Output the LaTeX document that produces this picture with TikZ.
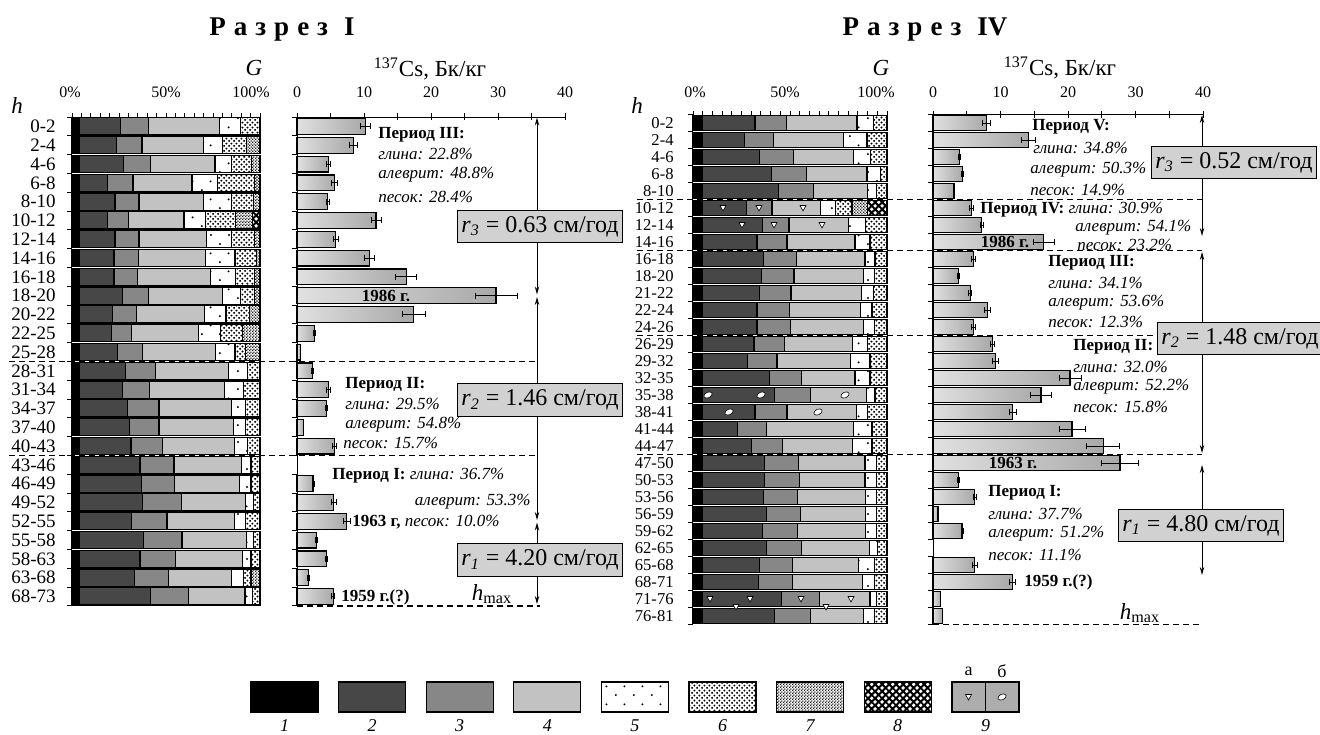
\documentclass[tikz,border=0pt]{standalone}
\usepackage{fontspec}
\setmainfont{Liberation Serif}
\usetikzlibrary{arrows.meta, patterns}

% textures of the grain size classes
\pgfdeclarepatternformonly{sparse dots}{\pgfqpoint{0pt}{0pt}}{\pgfqpoint{9pt}{9pt}}{\pgfqpoint{9pt}{9pt}}{%
	\pgfpathcircle{\pgfqpoint{2pt}{2pt}}{0.55pt}%
	\pgfpathcircle{\pgfqpoint{6.5pt}{6.5pt}}{0.55pt}%
	\pgfusepath{fill}%
}
\pgfdeclarepatternformonly{medium dots}{\pgfqpoint{0pt}{0pt}}{\pgfqpoint{2.6pt}{2.6pt}}{\pgfqpoint{2.6pt}{2.6pt}}{%
	\pgfpathcircle{\pgfqpoint{0.65pt}{0.65pt}}{0.62pt}%
	\pgfpathcircle{\pgfqpoint{1.95pt}{1.95pt}}{0.62pt}%
	\pgfusepath{fill}%
}
\pgfdeclarepatternformonly{fine dots}{\pgfqpoint{0pt}{0pt}}{\pgfqpoint{1.6pt}{1.6pt}}{\pgfqpoint{1.6pt}{1.6pt}}{%
	\pgfpathcircle{\pgfqpoint{0.4pt}{0.4pt}}{0.46pt}%
	\pgfpathcircle{\pgfqpoint{1.2pt}{1.2pt}}{0.46pt}%
	\pgfusepath{fill}%
}
\pgfdeclarepatternformonly{blobs}{\pgfqpoint{0pt}{0pt}}{\pgfqpoint{3.4pt}{3.4pt}}{\pgfqpoint{3.4pt}{3.4pt}}{%
	\pgfpathcircle{\pgfqpoint{0.85pt}{0.85pt}}{0.95pt}%
	\pgfpathcircle{\pgfqpoint{2.55pt}{2.55pt}}{0.95pt}%
	\pgfusepath{fill}%
}

\newcommand{\lsp}{\hspace{4pt}}
% one stacked bar: top, bottom, then the class limits in percent
\newcommand{\grainrow}[9]{%
	\path[sed-1] (0, #1) rectangle (#3, #2);
	\path[sed-2] (#3, #1) rectangle (#4, #2);
	\path[sed-3] (#4, #1) rectangle (#5, #2);
	\path[sed-4] (#5, #1) rectangle (#6, #2);
	\path[sed-5] (#6, #1) rectangle (#7, #2);
	\path[sed-6] (#7, #1) rectangle (#8, #2);
	\path[sed-7] (#8, #1) rectangle (#9, #2);
	\path[sed-8] (#9, #1) rectangle (100, #2);
	\draw[bar-edge] (0, #1) rectangle (100, #2)
		(#4, #1) -- (#4, #2) (#5, #1) -- (#5, #2) (#6, #1) -- (#6, #2)
		(#7, #1) -- (#7, #2) (#8, #1) -- (#8, #2) (#9, #1) -- (#9, #2);
}

\begin{document}
\begin{tikzpicture} [
		x = 0.5pt,
		y = -0.5pt,
		sed-1/.style = {fill = black},
		sed-2/.style = {fill = black!72},
		sed-3/.style = {fill = black!47},
		sed-4/.style = {fill = black!24},
		sed-5/.style = {pattern = sparse dots},
		sed-6/.style = {pattern = medium dots},
		sed-7/.style = {pattern = fine dots},
		sed-8/.style = {
			fill = black,
			postaction = {pattern = blobs, pattern color = white},
		},
		bar-edge/.style = {
			draw,
			line width = 0.6pt,
		},
		cs-bar/.style = {
			draw,
			line width = 0.6pt,
			left color = black!12,
			right color = black!34,
		},
		err-bar/.style = {
			arrows = {Bar[width = 3pt]-Bar[width = 3pt]},
			line width = 0.4pt,
		},
		axis/.style = {
			line width = 0.5pt,
		},
		period-line/.style = {
			dashed,
			dash pattern = on 3pt off 2pt,
			line width = 0.75pt,
		},
		rate-arrow/.style = {
			arrows = {Stealth[length = 4pt, width = 2.2pt]-Stealth[length = 4pt, width = 2.2pt]},
			line width = 0.5pt,
		},
		rate-box/.style = {
			draw,
			line width = 0.6pt,
			fill = black!18,
			inner xsep = 2pt,
			inner ysep = 3pt,
			font = \fontsize{12}{13}\selectfont,
		},
		section-title/.style = {
			font = \fontsize{13.5}{15}\selectfont\bfseries,
		},
		axis-title/.style = {
			font = \fontsize{11.5}{13}\selectfont,
		},
		axis-label/.style = {
			inner sep = 0pt,
			font = \fontsize{8}{9}\selectfont,
		},
		row-label-a/.style = {
			anchor = east,
			inner sep = 0pt,
			font = \fontsize{9.5}{10}\selectfont,
		},
		row-label-b/.style = {
			anchor = east,
			inner sep = 0pt,
			font = \fontsize{8.3}{9}\selectfont,
		},
		period-head/.style = {
			anchor = west,
			inner sep = 0pt,
			font = \fontsize{8.5}{9}\selectfont\bfseries,
		},
		period-text/.style = {
			anchor = west,
			inner sep = 0pt,
			font = \fontsize{8.5}{9}\selectfont\itshape,
		},
		year-label/.style = {
			inner sep = 0pt,
			font = \fontsize{8.5}{9}\selectfont\bfseries,
		},
		legend-num/.style = {
			font = \fontsize{9}{10}\selectfont\itshape,
		},
		legend-sub/.style = {
			font = \fontsize{9}{10}\selectfont,
		},
		inc-a/.pic = {
			\filldraw[fill = white, line width = 0.3pt] (-3, -2.5) -- (3, -2.5) -- (0, 3) -- cycle;
		},
		inc-b/.pic = {
			\filldraw[fill = white, line width = 0.3pt, rotate = 25] (0, 0) ellipse [x radius = 2.2pt, y radius = 1.4pt];
		}
	]

	\fill[white] (0, 0) rectangle (1320, 734);
	\useasboundingbox (0, 0) rectangle (1320, 734);

	% section I
	\node[section-title] (title-a) at (282, 30) {Р\lsp а\lsp з\lsp р\lsp е\lsp з\lsp\lsp I};
	\node[axis-title] (g-a) at (254, 68) {\itshape G};
	\node[axis-title] (cs-a) at (430, 69) {\textsuperscript{137}Cs, Бк/кг};
	\node[axis-title] (h-a) at (17, 106) {\itshape h};
	\node[axis-label] (g0-a) at (70, 92) {0\%};
	\node[axis-label] (g50-a) at (166, 92) {50\%};
	\node[axis-label] (g100-a) at (251, 92) {100\%};
	\foreach \t in {0, 10, 20, 30, 40}
		\node[axis-label] (cs\t-a) at ({297 + 6.7 * \t}, 92) {\t};
	\foreach \t in {0, 5, ..., 100}
		\draw[axis] ({72 + 1.88 * \t}, 117) -- ({72 + 1.88 * \t}, 113);
	\foreach \t in {0, 5, ..., 40}
		\draw[axis] ({297 + 6.7 * \t}, 113) -- ({297 + 6.7 * \t}, 120);
	\draw[axis] (67, 117) -- (72, 117) (292, 117) -- (297, 117);

	\foreach \i/\lab/\pa/\pb/\pc/\pd/\pe/\pf/\cv/\ev [evaluate = \i as \ya using 117 + (\i - 1) * 18.8, evaluate = \i as \ym using 117 + (\i - 0.5) * 18.8, evaluate = \i as \yb using 117 + \i * 18.8] in {
		1/0-2/25.7/40.7/78.4/89.7/100/100/10.2/0.8,
		2/2-4/23.5/37.2/69.9/80.2/92.9/100/8.4/0.6,
		3/4-6/27.4/41.6/76.1/85/95.6/100/4.7/0.3,
		4/6-8/19/32.4/63.8/77.5/97/100/5.6/0.5,
		5/8-10/22.9/35.6/69.9/84.8/96.6/100/4.6/0.3,
		6/10-12/19/29.9/59.6/71/87/95.8/11.8/0.8,
		7/12-14/22.9/35.6/71.4/84.8/97/100/5.8/0.4,
		8/14-16/22.3/35.2/71/86.7/98/100/10.8/0.8,
		9/16-18/22.3/34.9/73.7/87/97.1/100/16.3/1.6,
		10/18-20/26.7/40.6/80/89.5/97.1/100/29.7/3.2,
		11/20-22/21.5/34.3/70.5/81.9/94.3/100/17.4/1.8,
		12/22-25/21/31.8/67.2/79/90.5/100/2.6/0.2,
		13/25-28/24.2/37.5/76.2/86.7/92.4/100/0.5/0,
		14/28-31/28.6/44.4/83.2/93.3/100/100/2.3/0.2,
		15/31-34/26.7/41.3/81/91.4/100/100/4.7/0.4,
		16/34-37/29.5/46.3/84.8/92.4/100/100/4.4/0.2,
		17/37-40/30.5/46.3/85.7/92.4/100/100/1.0/0,
		18/40-43/31.4/48.2/86.3/93.3/100/100/5.6/0.4,
		19/43-46/36.2/54.3/90.1/95.2/100/100/0/0,
		20/46-49/36.8/54.7/88.9/95.2/100/100/2.4/0.2,
		21/49-52/37.5/58.1/92.4/96.6/100/100/5.5/0.4,
		22/52-55/31.8/50.5/86.3/92.4/100/100/7.4/0.6,
		23/55-58/38.1/58.5/92.8/96.6/100/100/2.9/0.2,
		24/58-63/36.2/55.2/90.5/95.2/100/100/4.4/0.2,
		25/63-68/33.3/51.4/84.8/91.4/95.2/100/1.7/0.2,
		26/68-73/41.9/61.9/92/96.2/100/100/5.4/0.3
	} {
		\node[row-label-a] (row-a\i) at (56, \ym) {\lab};
		\draw[axis] (67, \yb) -- (72, \yb) (292, \yb) -- (297, \yb);
		\begin{scope}[shift = {(72, 0)}, x = 0.94pt]
			\grainrow{\ya + 0.8}{\yb - 0.8}{4}{\pa}{\pb}{\pc}{\pd}{\pe}{\pf}
		\end{scope}
		\begin{scope}[shift = {(297, 0)}, x = 3.35pt]
			\ifdim \cv pt > 0pt \draw[cs-bar] (0, \ya + 1.5) rectangle (\cv, \yb - 1.5); \fi
			\ifdim \ev pt > 0pt \draw[err-bar] (\cv - \ev, \ym) -- (\cv + \ev, \ym); \fi
		\end{scope}
	}
	\draw[axis] (297, 117) -- (297, 606) (297, 117) -- (565, 117);

	\draw[period-line] (9, 361.4) -- (537, 361.4);
	\draw[period-line] (9, 455.4) -- (537, 455.4);
	\draw[period-line] (297, 606) -- (540, 606);
	\draw[rate-arrow] (537, 117.5) -- (537, 294.5);
	\draw[rate-arrow] (537, 297) -- (537, 520);
	\draw[rate-arrow] (537, 522.5) -- (537, 604);

	\node[rate-box] (rate-a3) at (540, 226.5) {{\itshape r}\textsubscript{\itshape 3} = 0.63 см/год};
	\node[rate-box] (rate-a2) at (540, 400) {{\itshape r}\textsubscript{\itshape 2} = 1.46 см/год};
	\node[rate-box] (rate-a1) at (540, 560) {{\itshape r}\textsubscript{\itshape 1} = 4.20 см/год};

	\node[period-head] (p3-a) at (378, 135) {Период III:};
	\node[period-text] (p3-a1) at (378, 154) {глина: 22.8\%};
	\node[period-text] (p3-a2) at (378, 175) {алеврит: 48.8\%};
	\node[period-text] (p3-a3) at (378, 197) {песок: 28.4\%};
	\node[period-head] (p2-a) at (345, 385) {Период II:};
	\node[period-text] (p2-a1) at (345, 404) {глина: 29.5\%};
	\node[period-text] (p2-a2) at (345, 425) {алеврит: 54.8\%};
	\node[period-text] (p2-a3) at (343, 443) {песок: 15.7\%};
	\node[period-head] (p1-a) at (332, 476) {Период I: \mdseries\itshape глина: 36.7\%};
	\node[period-text, anchor = east] (p1-a2) at (531, 502) {алеврит: 53.3\%};
	\node[period-head] (p1-a3) at (352, 522) {1963 г, \mdseries\itshape песок: 10.0\%};
	\node[year-label] (y1986-a) at (386, 296) {1986 г.};
	\node[year-label, anchor = west] (y1959-a) at (341, 597) {1959 г.(?)};
	\node[axis-title] (hmax-a) at (492, 594) {{\itshape h}\textsubscript{max}};

	% section IV
	\node[section-title] (title-b) at (925, 30) {Р\lsp а\lsp з\lsp р\lsp е\lsp з\lsp\lsp IV};
	\node[axis-title] (g-b) at (881, 68) {\itshape G};
	\node[axis-title] (cs-b) at (1060, 68) {\textsuperscript{137}Cs, Бк/кг};
	\node[axis-title] (h-b) at (637, 106) {\itshape h};
	\node[axis-label] (g0-b) at (695, 92) {0\%};
	\node[axis-label] (g50-b) at (785, 92) {50\%};
	\node[axis-label] (g100-b) at (876, 92) {100\%};
	\foreach \t in {0, 10, 20, 30, 40}
		\node[axis-label] (cs\t-b) at ({933 + 6.75 * \t}, 92) {\t};
	\foreach \t in {0, 5, ..., 100}
		\draw[axis] ({693 + 1.94 * \t}, 114.5) -- ({693 + 1.94 * \t}, 110.5);
	\foreach \t in {0, 5, ..., 40}
		\draw[axis] ({933 + 6.75 * \t}, 110.5) -- ({933 + 6.75 * \t}, 117.5);
	\draw[axis] (688, 114.5) -- (693, 114.5) (928, 114.5) -- (933, 114.5);

	\foreach \i/\lab/\pa/\pb/\pc/\pd/\pe/\pf/\cv/\ev [evaluate = \i as \ya using 114.5 + (\i - 1) * 17, evaluate = \i as \ym using 114.5 + (\i - 0.5) * 17, evaluate = \i as \yb using 114.5 + \i * 17] in {
		1/0-2/31.9/48.3/84.5/93.1/100/100/7.9/0.6,
		2/2-4/26.7/41.4/77.6/89.7/100/100/14.2/1.1,
		3/4-6/34.1/51.7/82.8/91.4/100/100/3.9/0.2,
		4/6-8/40.5/58.6/89.7/96.6/100/100/4.4/0.2,
		5/8-10/44/62.2/90.1/94.5/100/100/3.1/0.2,
		6/10-12/27.5/40.7/65.9/73.6/82/90/5.7/0.4,
		7/12-14/35.8/49.5/80.2/89/100/100/7.2/0.3,
		8/14-16/33/48.4/83.5/91.2/100/100/16.4/1.6,
		9/16-18/36.3/53.4/88.6/93.8/100/100/6.0/0.3,
		10/18-20/35.2/52.1/87.9/93.4/100/100/3.8/0.2,
		11/21-22/34.1/50.5/86.8/93/100/100/5.5/0.3,
		12/22-24/33/49.9/86.4/92.3/100/100/8.1/0.5,
		13/24-26/33/50.1/87.9/93.4/100/100/6.0/0.3,
		14/26-29/31.4/47.3/82.4/90.1/100/100/8.8/0.4,
		15/29-32/27.9/43.3/81.3/91.2/100/100/9.2/0.5,
		16/32-35/39.6/56/83.5/91.2/100/100/20.3/1.7,
		17/35-38/41.8/60.4/89.5/93.8/100/100/16.0/1.6,
		18/38-41/31.9/48.4/84.2/90.1/100/100/11.8/0.6,
		19/41-44/23.1/38/82.9/92.3/100/100/20.6/2.0,
		20/44-47/30.1/46.2/82.4/92.3/100/100/25.2/2.5,
		21/47-50/36.7/54.3/88.6/94.5/100/100/27.7/2.8,
		22/50-53/36.7/54.9/88.6/94.5/100/100/3.8/0.2,
		23/53-56/36.3/53.8/89/94.5/100/100/6.2/0.3,
		24/56-59/38/55.6/89/94.5/100/100/0.75/0,
		25/59-62/35.8/53.8/89/94.5/100/100/4.3/0.2,
		26/62-65/38/56/90.8/95.2/100/100/0/0,
		27/65-68/34.1/51.2/85.1/93.4/100/100/6.2/0.4,
		28/68-71/33.6/51.2/87.3/93.4/100/100/11.8/0.5,
		29/71-76/45.5/65.3/91.2/94.5/100/100/1.1/0,
		30/76-81/41.8/60.4/87.9/93.4/100/100/1.4/0
	} {
		\node[row-label-b] (row-b\i) at (674, \ym) {\lab};
		\draw[axis] (688, \yb) -- (693, \yb) (928, \yb) -- (933, \yb);
		\begin{scope}[shift = {(693, 0)}, x = 0.97pt]
			\grainrow{\ya + 1.2}{\yb - 1.2}{5}{\pa}{\pb}{\pc}{\pd}{\pe}{\pf}
		\end{scope}
		\begin{scope}[shift = {(933, 0)}, x = 3.375pt]
			\ifdim \cv pt > 0pt \draw[cs-bar] (0, \ya + 1.3) rectangle (\cv, \yb - 1.3); \fi
			\ifdim \ev pt > 0pt \draw[err-bar] (\cv - \ev, \ym) -- (\cv + \ev, \ym); \fi
		\end{scope}
	}
	\draw[axis] (933, 114.5) -- (933, 624.5) (933, 114.5) -- (1203, 114.5);

	% inclusions
	\foreach \x/\y in {723/208, 759/208, 803/208, 742/225, 774/225, 822/225, 710/599, 750/599, 801/599, 851/599, 736/607, 826/607}
		\pic at (\x, \y) {inc-a};
	\foreach \x/\y in {708/395, 761/395, 845/395, 729/412, 818/412}
		\pic at (\x, \y) {inc-b};

	\draw[period-line] (637, 199.5) -- (1202, 199.5);
	\draw[period-line] (637, 250.5) -- (1202, 250.5);
	\draw[period-line] (637, 335.5) -- (1202, 335.5);
	\draw[period-line] (637, 454.5) -- (1202, 454.5);
	\draw[period-line] (933, 624.5) -- (1202, 624.5);
	\draw[rate-arrow] (1202, 115) -- (1202, 236);
	\draw[rate-arrow] (1202, 252) -- (1202, 453);
	\draw[rate-arrow] (1202, 465) -- (1202, 575);

	\node[rate-box] (rate-b3) at (1234, 162.5) {{\itshape r}\textsubscript{\itshape 3} = 0.52 см/год};
	\node[rate-box] (rate-b2) at (1240, 338.5) {{\itshape r}\textsubscript{\itshape 2} = 1.48 см/год};
	\node[rate-box] (rate-b1) at (1201, 525.5) {{\itshape r}\textsubscript{\itshape 1} = 4.80 см/год};

	\node[period-head] (p5-b) at (1032, 127) {Период V:};
	\node[period-text] (p5-b1) at (1033, 148) {глина: 34.8\%};
	\node[period-text] (p5-b2) at (1030, 170) {алеврит: 50.3\%};
	\node[period-text] (p5-b3) at (1030, 190) {песок: 14.9\%};
	\node[period-head] (p4-b) at (980, 210) {Период IV: \mdseries\itshape глина: 30.9\%};
	\node[period-text] (p4-b2) at (1075, 228) {алеврит: 54.1\%};
	\node[period-text] (p4-b3) at (1077, 245) {песок: 23.2\%};
	\node[period-head] (p3-b) at (1048, 263) {Период III:};
	\node[period-text] (p3-b1) at (1048, 283) {глина: 34.1\%};
	\node[period-text] (p3-b2) at (1048, 303) {алеврит: 53.6\%};
	\node[period-text] (p3-b3) at (1048, 322) {песок: 12.3\%};
	\node[period-head] (p2-b) at (1073, 347) {Период II:};
	\node[period-text] (p2-b1) at (1073, 367) {глина: 32.0\%};
	\node[period-text] (p2-b2) at (1073, 387) {алеврит: 52.2\%};
	\node[period-text] (p2-b3) at (1073, 407) {песок: 15.8\%};
	\node[period-head] (p1-b) at (988, 493) {Период I:};
	\node[period-text] (p1-b1) at (988, 514) {глина: 37.7\%};
	\node[period-text] (p1-b2) at (988, 534) {алеврит: 51.2\%};
	\node[period-text] (p1-b3) at (988, 555) {песок: 11.1\%};
	\node[year-label] (y1986-b) at (1005, 242) {1986 г.};
	\node[year-label] (y1963-b) at (1013, 463) {1963 г.};
	\node[year-label, anchor = west] (y1959-b) at (1024, 582) {1959 г.(?)};
	\node[axis-title] (hmax-b) at (1140, 613) {{\itshape h}\textsubscript{max}};

	% legend
	\foreach \k in {1, ..., 8} {
		\path[sed-\k] ({251 + 87.6 * (\k - 1)}, 682) rectangle ++(67, 30);
		\draw[bar-edge] ({251 + 87.6 * (\k - 1)}, 682) rectangle ++(67, 30);
		\node[legend-num] (key-\k) at ({284.5 + 87.6 * (\k - 1)}, 726) {\k};
	}
	\path[fill = black!32] (952, 682) rectangle (1019, 712);
	\draw[bar-edge] (952, 682) rectangle (1019, 712) (985.5, 682) -- (985.5, 712);
	\pic at (968.5, 697) {inc-a};
	\pic at (1002, 697) {inc-b};
	\node[legend-num] (key-9) at (985.5, 726) {9};
	\node[legend-sub] (key-9a) at (968.5, 671) {а};
	\node[legend-sub] (key-9b) at (1002, 671) {б};
\end{tikzpicture}
\end{document}
